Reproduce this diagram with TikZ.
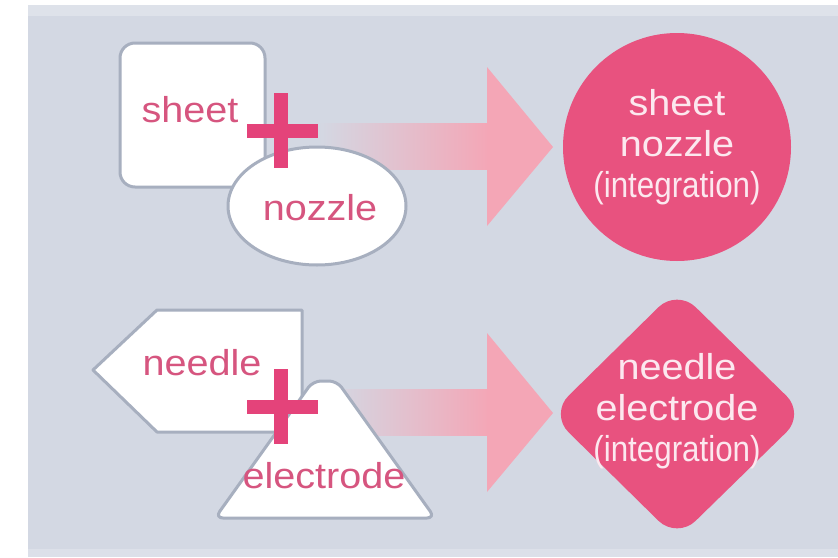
\documentclass[tikz,border=0pt]{standalone}
\usepackage{fontspec}
\setmainfont{Liberation Sans}
\usepackage{graphicx}
\definecolor{panel}{HTML}{D3D8E3}
\definecolor{rim}{HTML}{A7AFBF}
\definecolor{lblpink}{HTML}{D6557F}
\definecolor{pluspink}{HTML}{E4437A}
\definecolor{respink}{HTML}{E8527F}
\definecolor{restext}{HTML}{FCE8EF}
\definecolor{arrowpink}{HTML}{F4A6B6}
\newcommand{\widetxt}[1]{\scalebox{1.1}[1]{#1}}
\newcommand{\narrowtxt}[1]{\scalebox{0.87}[1]{#1}}
\begin{document}
\begin{tikzpicture}[x=1pt,y=-1pt,line join=round,
  part/.style={draw=rim,line width=3pt,fill=white},
  lbl/.style={text=lblpink,font=\fontsize{36}{41}\selectfont,inner sep=0pt,anchor=base},
  restxt/.style={text=restext,font=\fontsize{36}{41}\selectfont,align=center,inner sep=0pt},
  plus/.style={draw=pluspink,line width=14pt}]
\useasboundingbox (0,0) rectangle (838,557);

%Hintergrund
\fill[white] (0,0) rectangle (838,557);
\fill[panel] (28,5) rectangle (838,557);
\fill[panel!75!white] (28,5) rectangle (838,16);
\fill[panel!80!white] (28,549) rectangle (838,557);

%Pfeile
\foreach \y/\a in {146/318, 412/330}{
\fill[left color=panel,right color=arrowpink] (\a,\y-23) rectangle (490,\y+23);
\fill[arrowpink] (487,\y-79) -- (553,\y+1) -- (487,\y+80) -- cycle;
}

%Teile oben
\draw[part,rounded corners=15pt] (120,43) rectangle (265,187);
\draw[part] (317,206) ellipse (89pt and 59pt);
\node[lbl] (sheet) at (190,122) {\widetxt{sheet}};
\node[lbl] (nozzle) at (320,220) {\widetxt{nozzle}};

%Teile unten
\draw[part] (157,310) -- (302,310) -- (302,432) -- (157,432) -- (93,370) -- cycle;
\draw[part,rounded corners=8pt] (215,518) -- (313,381) -- (337,381) -- (435,518) -- cycle;
\node[lbl] (needle) at (202,375) {\widetxt{needle}};
\node[lbl] (electrode) at (324,488) {\widetxt{electrode}};

%Plus
\foreach \y in {131,407}{
\draw[plus] (281,\y-38) -- (281,\y+37);
\draw[plus] (247,\y) -- (318,\y);
}

%Ergebnis
\node[circle,fill=respink,minimum size=228pt,restxt] (sn) at (677,147)
  {\widetxt{sheet}\\\widetxt{nozzle}\\\narrowtxt{(integration)}};
\fill[respink,rounded corners=26pt] (550,414) -- (677,289) -- (805,414) -- (677,539) -- cycle;
\node[restxt] (ne) at (677,411)
  {\widetxt{needle}\\\widetxt{electrode}\\\narrowtxt{(integration)}};

\end{tikzpicture}
\end{document}
